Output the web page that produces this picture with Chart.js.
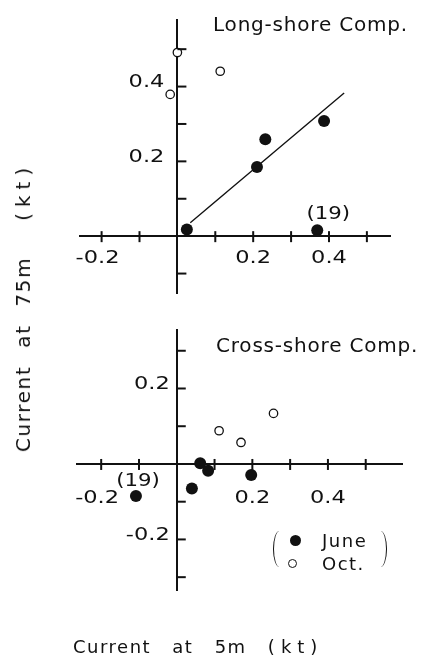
<!DOCTYPE html>
<html>
<head>
<meta charset="UTF-8">
<title>Current at 75 m vs Current at 5 m</title>
<script src="https://cdn.jsdelivr.net/npm/chart.js"></script>
<style>
    body { margin: 0; background: #fff; width: 424px; height: 655px; position: relative; overflow: hidden;
           font-family: "DejaVu Sans", sans-serif; color: #111; }
    canvas { position: absolute; left: 0; }
    #top-chart { top: 0; }
    #bottom-chart { top: 310px; }
    .txt { position: absolute; white-space: pre; line-height: 1; }
    .panel-title { font-size: 20px; letter-spacing: 0.8px; }
    #y-title { left: 23px; top: 307px; font-size: 20px; letter-spacing: 1.6px; word-spacing: 10px;
               transform: translate(-50%, -50%) rotate(-90deg); }
    #x-title { left: 73px; top: 638px; font-size: 18px; letter-spacing: 1.5px; word-spacing: 14px; }
    .unit { letter-spacing: 6px; }
    #legend { position: absolute; left: 273px; top: 531px; width: 114px; height: 38px; font-size: 18px; }
    .paren { position: absolute; top: 0; width: 12px; height: 36px; border: 0 solid #111; }
    .paren.l { left: 0; border-left-width: 1.6px; border-radius: 50% 0 0 50%; }
    .paren.r { right: 0; border-right-width: 1.6px; border-radius: 0 50% 50% 0; }
    .row { position: absolute; left: 17px; letter-spacing: 1.5px; }
    .dot { position: absolute; border-radius: 50%; box-sizing: border-box; }
</style>
</head>
<body>

<canvas id="top-chart" width="424" height="310"></canvas>
<canvas id="bottom-chart" width="424" height="345"></canvas>

<div class="txt panel-title" style="left:213px; top:14px;">Long-shore Comp.</div>
<div class="txt panel-title" style="left:216px; top:335px;">Cross-shore Comp.</div>

<div class="txt" id="y-title">Current at 75m  <span class="unit">(kt)</span></div>
<div class="txt" id="x-title">Current at 5m <span class="unit">(kt)</span></div>

<div id="legend">
    <div class="paren l"></div>
    <div class="paren r"></div>
    <div class="dot" style="left:17px; top:4px; width:11px; height:11px; background:#111;"></div>
    <div class="txt row" style="left:49px; top:1px;">June</div>
    <div class="dot" style="left:15px; top:28px; width:9px; height:9px; border:1.3px solid #111;"></div>
    <div class="txt row" style="left:49px; top:24px;">Oct.</div>
</div>

<script>
    const ink = '#111';

    // long-shore component (x = current at 5 m, y = current at 75 m), kt
    const longJuneX = [0.025, 0.21, 0.232, 0.387, 0.369];
    const longJuneY = [0.018, 0.185, 0.259, 0.308, 0.016];
    const longOctX = [0.0, -0.019, 0.113];
    const longOctY = [0.491, 0.379, 0.441];
    const fitX = [0.034, 0.44];
    const fitY = [0.036, 0.383];

    // cross-shore component
    const crossJuneX = [-0.108, 0.04, 0.062, 0.083, 0.197];
    const crossJuneY = [-0.085, -0.065, 0.002, -0.018, -0.029];
    const crossOctX = [0.112, 0.17, 0.256];
    const crossOctY = [0.088, 0.057, 0.134];

    // ticks
    const xTicks = [-0.2, -0.1, 0.1, 0.2, 0.3, 0.4, 0.5];
    const xTickLabels = ['-0.2', '', '', '0.2', '', '0.4', ''];
    const topYTicks = [-0.1, 0.1, 0.2, 0.3, 0.4, 0.5];
    const topYTickLabels = ['', '', '0.2', '', '0.4', ''];
    const botYTicks = [-0.3, -0.2, -0.1, 0.1, 0.2, 0.3];
    const botYTickLabels = ['', '-0.2', '', '', '0.2', ''];

    const toPoints = (xs, ys) => xs.map((x, i) => ({x: x, y: ys[i]}));

    // the plotter lettering is wide, so stretch the text sideways a bit
    const stretch = 1.25;
    function wideText(ctx, text, x, y, align) {
        ctx.save();
        ctx.translate(x, y);
        ctx.scale(stretch, 1);
        ctx.textAlign = align;
        ctx.fillText(text, 0, 0);
        ctx.restore();
    }

    // tick marks, tick labels and the "(19)" note, placed with the chart's own scales
    const axisMarks = {
        id: 'axisMarks',
        afterDatasetsDraw(chart, args, opts) {
            const {ctx, scales: {x, y}} = chart;
            const x0 = x.getPixelForValue(0);
            const y0 = y.getPixelForValue(0);
            ctx.save();
            ctx.strokeStyle = ink;
            ctx.fillStyle = ink;
            ctx.lineWidth = 2;
            ctx.font = '18px "DejaVu Sans"';
            ctx.textBaseline = 'middle';

            opts.xTicks.forEach((v, i) => {
                const px = x.getPixelForValue(v);
                ctx.beginPath();
                ctx.moveTo(px, y0 - 5);
                ctx.lineTo(px, y0 + 6);
                ctx.stroke();
                const lab = opts.xLabels[i];
                if (lab) {
                    const w = ctx.measureText(lab.replace('-', '')).width * stretch;
                    wideText(ctx, lab, px + w / 2, y0 + opts.xGap, 'right');
                }
            });

            opts.yTicks.forEach((v, i) => {
                const py = y.getPixelForValue(v);
                ctx.beginPath();
                ctx.moveTo(x0, py);
                ctx.lineTo(x0 + 9, py);
                ctx.stroke();
                const lab = opts.yLabels[i];
                if (lab) wideText(ctx, lab, x0 - opts.yGap, py - 4, 'right');
            });

            if (opts.note) {
                const pt = chart.getDatasetMeta(opts.note.dataset).data[opts.note.index];
                ctx.font = '17px "DejaVu Sans"';
                wideText(ctx, opts.note.text, pt.x + opts.note.dx, pt.y + opts.note.dy, 'center');
            }
            ctx.restore();
        }
    };

    function axisScale(min, max, other) {
        return {
            type: 'linear',
            min: min,
            max: max,
            position: {[other]: 0},
            grid: {display: false},
            border: {display: true, color: ink, width: 2},
            ticks: {display: false}
        };
    }

    function makeChart(id, datasets, ranges, padding, marks) {
        return new Chart(document.getElementById(id), {
            type: 'scatter',
            data: {datasets: datasets},
            options: {
                responsive: false,
                animation: false,
                layout: {padding: padding},
                plugins: {
                    legend: {display: false},
                    tooltip: {enabled: false},
                    axisMarks: marks
                },
                scales: {
                    x: axisScale(ranges[0], ranges[1], 'y'),
                    y: axisScale(ranges[2], ranges[3], 'x')
                }
            },
            plugins: [axisMarks]
        });
    }

    const juneStyle = {pointRadius: 6, pointBackgroundColor: ink, pointBorderWidth: 0};
    const octStyle = {pointRadius: 4.2, pointBackgroundColor: '#fff', pointBorderColor: ink, pointBorderWidth: 1.3};

    makeChart('top-chart', [
        Object.assign({label: 'June', data: toPoints(longJuneX, longJuneY)}, juneStyle),
        Object.assign({label: 'Oct.', data: toPoints(longOctX, longOctY)}, octStyle),
        {label: 'fit', data: toPoints(fitX, fitY), showLine: true, pointRadius: 0,
         borderColor: ink, borderWidth: 1.4}
    ], [-0.257, 0.561, -0.152, 0.578], {left: 80, right: 34, top: 20, bottom: 17}, {
        xTicks: xTicks, xLabels: xTickLabels, yTicks: topYTicks, yLabels: topYTickLabels,
        xGap: 22, yGap: 13,
        note: {dataset: 0, index: 4, text: '(19)', dx: 11, dy: -16}
    });

    makeChart('bottom-chart', [
        Object.assign({label: 'June', data: toPoints(crossJuneX, crossJuneY)}, juneStyle),
        Object.assign({label: 'Oct.', data: toPoints(crossOctX, crossOctY)}, octStyle)
    ], [-0.264, 0.596, -0.334, 0.355], {left: 77, right: 22, top: 20, bottom: 65}, {
        xTicks: xTicks, xLabels: xTickLabels, yTicks: botYTicks, yLabels: botYTickLabels,
        xGap: 34, yGap: 7,
        note: {dataset: 0, index: 0, text: '(19)', dx: 2, dy: -14}
    });
</script>

</body>
</html>
